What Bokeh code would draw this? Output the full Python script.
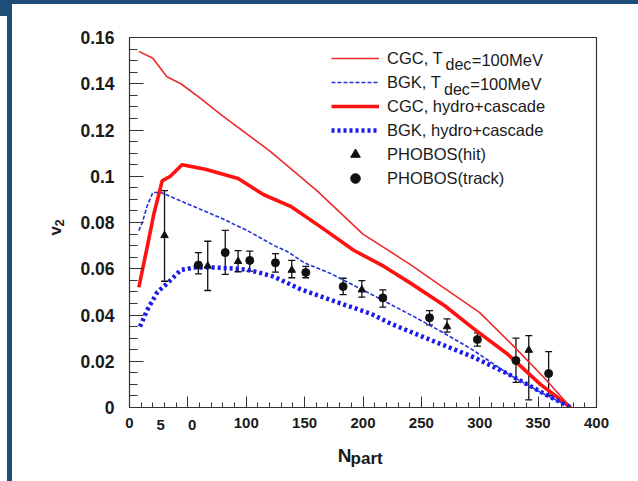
import math
from bokeh.plotting import figure
from bokeh.models import (Range1d, FixedTicker, Legend, LegendItem, Label,
                          Whisker, TeeHead, ColumnDataSource)
from bokeh.embed import file_html
from bokeh.resources import INLINE

# ---------------- data ----------------
cgc_tdec_x = [8, 20, 32, 44, 60, 80, 120, 160, 200, 240, 260, 300, 330, 355, 378]
cgc_tdec_y = [0.154, 0.151, 0.143, 0.140, 0.134, 0.126, 0.111, 0.094, 0.075,
              0.062, 0.055, 0.041, 0.026, 0.013, 0.0]

bgk_tdec_x = [8, 11, 15, 20, 27, 50, 78, 101, 124, 135, 150, 172, 207, 241,
              270, 295, 324, 352, 378]
bgk_tdec_y = [0.0765, 0.080, 0.087, 0.093, 0.093, 0.088, 0.082, 0.0765, 0.070,
              0.0675, 0.0625, 0.058, 0.049, 0.040, 0.032, 0.0246, 0.0146, 0.0066, 0.0]

cgc_hc_x = [8, 15, 21, 28, 35, 45, 65, 93, 115, 138, 164, 192, 218, 240, 270,
            295, 324, 352, 378]
cgc_hc_y = [0.052, 0.069, 0.084, 0.098, 0.100, 0.105, 0.103, 0.099, 0.092,
            0.087, 0.078, 0.068, 0.061, 0.054, 0.044, 0.034, 0.023, 0.010, 0.0]

bgk_hc_x = [9, 15, 24, 32, 44, 55, 75, 92, 101, 110, 124, 147, 178, 207, 224,
            252, 295, 324, 358, 378]
bgk_hc_y = [0.035, 0.042, 0.050, 0.0535, 0.0595, 0.0605, 0.0605, 0.060, 0.0595,
            0.0585, 0.0565, 0.051, 0.0455, 0.0405, 0.0362, 0.0304, 0.0217,
            0.0146, 0.0052, 0.0]

hit_x = [30, 67, 93, 139, 199, 272, 342]
hit_y = [0.0744, 0.0612, 0.0632, 0.0594, 0.0509, 0.0350, 0.0248]
hit_hi = [0.0938, 0.0719, 0.0678, 0.0636, 0.0549, 0.0383, 0.0311]
hit_lo = [0.0546, 0.0506, 0.0587, 0.0561, 0.0477, 0.0326, 0.0033]

trk_x = [59, 82, 103, 125, 151, 183, 217, 257, 298, 331, 359]
trk_y = [0.0616, 0.0670, 0.0636, 0.0626, 0.0584, 0.0523, 0.0474, 0.0388,
         0.0294, 0.0203, 0.0147]
trk_hi = [0.0670, 0.0766, 0.0676, 0.0665, 0.0610, 0.0559, 0.0509, 0.0419,
          0.0323, 0.0300, 0.0242]
trk_lo = [0.0578, 0.0576, 0.0590, 0.0585, 0.0561, 0.0488, 0.0434, 0.0357,
          0.0265, 0.0109, 0.0052]

x_ticks = [0, 50, 100, 150, 200, 250, 300, 350, 400]
x_tick_labels = ["0", "", "100", "150", "200", "250", "300", "350", "400"]
y_ticks = [0, 0.02, 0.04, 0.06, 0.08, 0.1, 0.12, 0.14, 0.16]
y_tick_labels = ["0", "0.02", "0.04", "0.06", "0.08", "0.1", "0.12", "0.14", "0.16"]

legend_labels = ["CGC, T", "BGK, T", "CGC, hydro+cascade", "BGK, hydro+cascade",
                 "PHOBOS(hit)", "PHOBOS(track)"]

# ---------------- figure ----------------
FONT = "Liberation Sans"
TXT = "#1a1a1a"
BORDER = "#1e4d78"

p = figure(frame_width=467, frame_height=370,
           min_border_left=129, min_border_right=42,
           min_border_top=37, min_border_bottom=74,
           x_range=Range1d(0, 400), y_range=Range1d(0, 0.16),
           output_backend="svg", toolbar_location=None)
p.background_fill_color = "white"
p.border_fill_alpha = 0.0
p.styles = {
    "background": (f"linear-gradient({BORDER},{BORDER}) 0 0 / 100% 4px no-repeat, "
                   f"linear-gradient({BORDER},{BORDER}) 0 0 / 7px 16px no-repeat, "
                   f"linear-gradient({BORDER},{BORDER}) 7px 0 / 5px 100% no-repeat, "
                   "white")
}
p.grid.visible = False
p.outline_line_color = "#333333"
p.outline_line_width = 1.2

p.xaxis.ticker = FixedTicker(ticks=x_ticks, minor_ticks=list(range(0, 401, 10)))
p.yaxis.ticker = FixedTicker(ticks=y_ticks, minor_ticks=[i * 0.005 for i in range(33)])
p.xaxis.major_label_overrides = dict(zip(x_ticks, x_tick_labels))
p.yaxis.major_label_overrides = dict(zip(y_ticks, y_tick_labels))

for ax in (p.xaxis[0], p.yaxis[0]):
    ax.axis_line_color = "#333333"
    ax.major_tick_line_color = "#333333"
    ax.minor_tick_line_color = "#333333"
    ax.major_tick_out = 0
    ax.minor_tick_out = 0
    ax.major_label_text_font = FONT
    ax.major_label_text_font_style = "bold"
    ax.major_label_text_color = TXT
p.xaxis.major_tick_in = 11
p.xaxis.minor_tick_in = 5
p.yaxis.major_tick_in = 14
p.yaxis.minor_tick_in = 8
p.xaxis.major_label_text_font_size = "15px"
p.yaxis.major_label_text_font_size = "17.5px"
p.xaxis.major_label_standoff = 10
p.yaxis.major_label_standoff = 15

# ---------------- curves ----------------
r1 = p.line(cgc_tdec_x, cgc_tdec_y, line_color="#ee2a2a", line_width=1.6)
r2 = p.line(bgk_tdec_x, bgk_tdec_y, line_color="#2233dd", line_width=1.6, line_dash="4 2")
r3 = p.line(cgc_hc_x, cgc_hc_y, line_color="#ff1111", line_width=3.6)
r4 = p.line(bgk_hc_x, bgk_hc_y, line_color="#1a1aee", line_width=4.5, line_dash="3 3")

# ---------------- data points ----------------
hit_src = ColumnDataSource(dict(x=hit_x, y=hit_y, hi=hit_hi, lo=hit_lo))
trk_src = ColumnDataSource(dict(x=trk_x, y=trk_y, hi=trk_hi, lo=trk_lo))
for src in (hit_src, trk_src):
    w = Whisker(source=src, base="x", upper="hi", lower="lo", dimension="height",
                line_color="#111111", line_width=1.3,
                upper_head=TeeHead(size=7, line_color="#111111", line_width=1.3),
                lower_head=TeeHead(size=7, line_color="#111111", line_width=1.3))
    p.add_layout(w)
r5 = p.scatter("x", "y", source=hit_src, marker="triangle", size=7.5,
               fill_color="#111111", line_color="#111111")
r6 = p.scatter("x", "y", source=trk_src, marker="circle", size=8,
               fill_color="#111111", line_color="#111111")

# ---------------- legend ----------------
items = [LegendItem(label=lab, renderers=[r]) for lab, r in
         zip(legend_labels, [r1, r2, r3, r4, r5, r6])]
legend = Legend(items=items, location=(202, 217), padding=0, margin=0, spacing=0,
                glyph_width=48, glyph_height=24, label_height=24, label_standoff=8,
                border_line_alpha=0, background_fill_alpha=0,
                label_text_font=FONT, label_text_font_size="16.5px",
                label_text_color=TXT)
p.add_layout(legend)

def lab(text, x, y, size, **kw):
    # x, y: pixel offsets from the frame's bottom-left corner (screen units)
    p.add_layout(Label(x=x, y=y, x_units="screen", y_units="screen", text=text,
                       text_font=FONT, text_font_size=size, text_color=TXT, **kw))

def side_lab(side, text, x, y, size, **kw):
    # positioned in data units; placed in a side panel so it is not clipped
    p.add_layout(Label(x=x, y=y, text=text, text_font=FONT, text_font_size=size,
                       text_color=TXT, **kw), side)

# subscripts in legend
lab("dec", 316, 342.7, "16px", text_baseline="alphabetic")
lab("=100MeV", 342.3, 347.7, "16.5px", text_baseline="alphabetic")
lab("dec", 314.5, 318.3, "16px", text_baseline="alphabetic")
lab("=100MeV", 340.8, 323.3, "16.5px", text_baseline="alphabetic")

# split "50" tick label as in the reference
side_lab("below", "5", 26.6, -0.0052, "15px", text_align="center", text_baseline="top",
         text_font_style="bold")
side_lab("below", "0", 53.7, -0.0052, "15px", text_align="center", text_baseline="top",
         text_font_style="bold")

# axis titles
side_lab("below", "N", 178.3, -0.0208, "19px", text_baseline="alphabetic",
         text_font_style="bold")
side_lab("below", "part", 189.4, -0.0221, "17px", text_baseline="alphabetic",
         text_font_style="bold")
side_lab("left", "v", -63.0, 0.0744, "17px", text_baseline="alphabetic",
         text_font_style="bold", angle=math.pi / 2)
side_lab("left", "2", -60.1, 0.0783, "13px", text_baseline="alphabetic",
         text_font_style="bold", angle=math.pi / 2)

open("out.html", "w").write(file_html(p, INLINE))
